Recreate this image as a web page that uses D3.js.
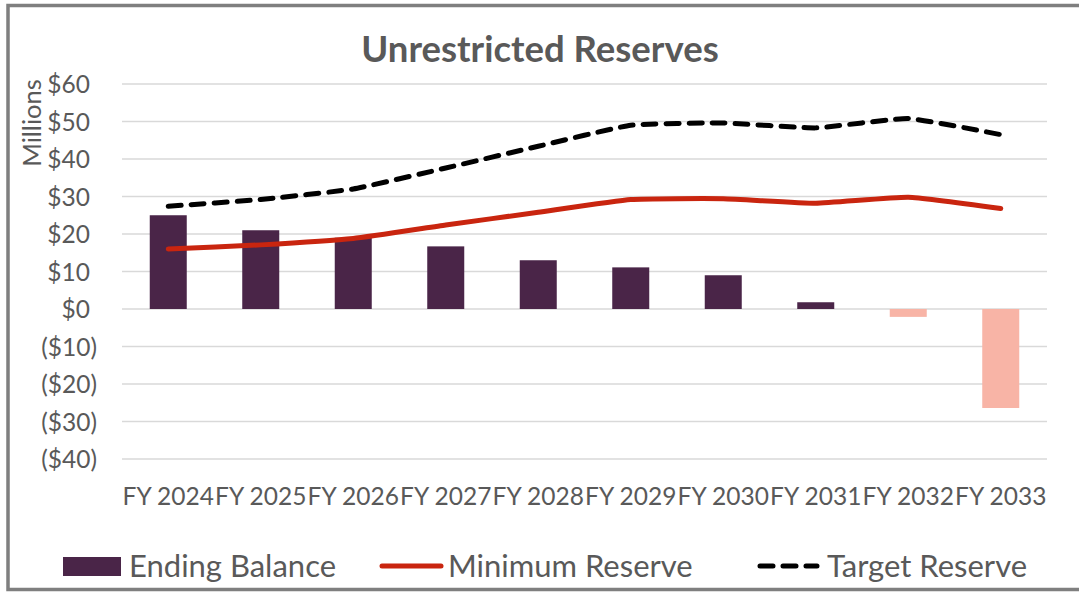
<!DOCTYPE html>
<html>
<head>
  <script src="https://d3js.org/d3.v7.min.js"></script>
  <style>
      body {
        margin: 0;
        background: #ffffff;
      }

      #chart {
        width: 1079px;
        height: 593px;
        position: relative;
      }

      text {
        font-family: Lato, "Open Sans", sans-serif;
        fill: #595959;
      }

      .title {
        font-size: 36.5px;
        font-weight: bold;
      }

      .axis text {
        font-size: 24.5px;
      }

      .axisLabel {
        font-size: 25.5px;
      }

      .legend text {
        font-size: 31px;
      }
  </style>
</head>
<body>
  <div id="chart"></div>
  <script>
    /*
    DATA
    values in millions of dollars
    */
    const years = ["FY 2024", "FY 2025", "FY 2026", "FY 2027", "FY 2028",
                   "FY 2029", "FY 2030", "FY 2031", "FY 2032", "FY 2033"];
    const endingBalance = [25.0, 21.0, 19.0, 16.7, 13.0, 11.1, 9.0, 1.8, -2.1, -26.4];
    const minimumReserve = [16.0, 17.1, 18.8, 22.4, 25.8, 29.2, 29.4, 28.2, 29.8, 26.8];
    const targetReserve = [27.4, 29.2, 32.0, 37.6, 43.4, 49.0, 49.6, 48.3, 50.8, 46.5];
    const yTicks = [60, 50, 40, 30, 20, 10, 0, -10, -20, -30, -40];
    const legendLabels = ["Ending Balance", "Minimum Reserve", "Target Reserve"];

    /*
    DIMENSIONS AND SVG
    */
    const width = 1079;
    const height = 593;
    const margin = {top: 84, left: 122, right: 32, bottom: 134};
    const svg = d3.select("#chart")
      .append("svg")
      .attr("width", width)
      .attr("height", height);

    // outer frame
    svg.append("rect")
      .attr("x", 8)
      .attr("y", 5.5)
      .attr("width", width + 20)
      .attr("height", 584)
      .attr("fill", "none")
      .attr("stroke", "#7f7f7f")
      .attr("stroke-width", 3.5);

    /*
    SCALES
    */
    const xScale = d3.scaleBand()
      .domain(years)
      .range([margin.left, width - margin.right])
      .paddingInner(0.6)
      .paddingOuter(0.3);

    const yScale = d3.scaleLinear()
      .domain([-40, 60])
      .range([height - margin.bottom, margin.top]);

    const xCenter = function(d, i) { return xScale(years[i]) + xScale.bandwidth() / 2; };

    /*
    GRIDLINES
    */
    svg.append("g")
      .selectAll("line")
      .data(yTicks)
      .enter()
      .append("line")
        .attr("x1", margin.left)
        .attr("x2", width - margin.right)
        .attr("y1", function(d) { return yScale(d); })
        .attr("y2", function(d) { return yScale(d); })
        .attr("stroke", "#d9d9d9")
        .attr("stroke-width", 1.5);

    /*
    AXES
    */
    const money = function(d) {
      return d < 0 ? "($" + Math.abs(d) + ")" : "$" + d;
    };

    const yAxis = svg.append("g")
      .attr("class", "axis")
      .attr("transform", `translate(${margin.left},0)`)
      .call(d3.axisLeft(yScale).tickValues(yTicks).tickFormat(money).tickSize(0).tickPadding(32));
    yAxis.select(".domain").remove();
    yAxis.selectAll("text")
      .attr("dx", function(d) { return d < 0 ? 7 : 0; })
      .attr("dy", "0.36em");

    const xAxis = svg.append("g")
      .attr("class", "axis")
      .attr("transform", `translate(0,${yScale(-40)})`)
      .call(d3.axisBottom(xScale).tickSize(0).tickPadding(29));
    xAxis.select(".domain").remove();

    svg.append("text")
      .attr("class", "axisLabel")
      .attr("transform", "rotate(-90)")
      .attr("x", -123)
      .attr("y", 41)
      .attr("text-anchor", "middle")
      .text("Millions");

    /*
    TITLE
    */
    svg.append("text")
      .attr("class", "title")
      .attr("x", 540)
      .attr("y", 62)
      .attr("text-anchor", "middle")
      .text("Unrestricted Reserves");

    /*
    BARS
    */
    svg.append("g")
      .selectAll("rect")
      .data(endingBalance)
      .enter()
      .append("rect")
        .attr("x", function(d, i) { return xScale(years[i]); })
        .attr("y", function(d) { return yScale(Math.max(d, 0)); })
        .attr("width", xScale.bandwidth())
        .attr("height", function(d) { return Math.abs(yScale(d) - yScale(0)); })
        .attr("fill", function(d) { return d < 0 ? "#f8b4a6" : "#4a2548"; });

    /*
    LINES
    */
    const line = d3.line()
      .x(xCenter)
      .y(function(d) { return yScale(d); })
      .curve(d3.curveCardinal.tension(0.6));

    svg.append("path")
      .datum(minimumReserve)
      .attr("d", line)
      .attr("fill", "none")
      .attr("stroke", "#c9250f")
      .attr("stroke-width", 5)
      .attr("stroke-linecap", "round")
      .attr("stroke-linejoin", "round");

    svg.append("path")
      .datum(targetReserve)
      .attr("d", line)
      .attr("fill", "none")
      .attr("stroke", "#000000")
      .attr("stroke-width", 5)
      .attr("stroke-dasharray", "13,10")
      .attr("stroke-linecap", "round");

    /*
    LEGEND
    */
    const legend = svg.append("g").attr("class", "legend");

    legend.append("rect")
      .attr("x", 63).attr("y", 557)
      .attr("width", 58).attr("height", 19)
      .attr("fill", "#4a2548");
    legend.append("text")
      .attr("x", 129).attr("y", 577)
      .text(legendLabels[0]);

    legend.append("line")
      .attr("x1", 382).attr("x2", 441)
      .attr("y1", 566).attr("y2", 566)
      .attr("stroke", "#c9250f")
      .attr("stroke-width", 5)
      .attr("stroke-linecap", "round");
    legend.append("text")
      .attr("x", 448).attr("y", 577)
      .text(legendLabels[1]);

    legend.append("line")
      .attr("x1", 760).attr("x2", 817)
      .attr("y1", 566).attr("y2", 566)
      .attr("stroke", "#000000")
      .attr("stroke-width", 5)
      .attr("stroke-dasharray", "13,10")
      .attr("stroke-linecap", "round");
    legend.append("text")
      .attr("x", 827).attr("y", 577)
      .text(legendLabels[2]);
  </script>
</body>
</html>
